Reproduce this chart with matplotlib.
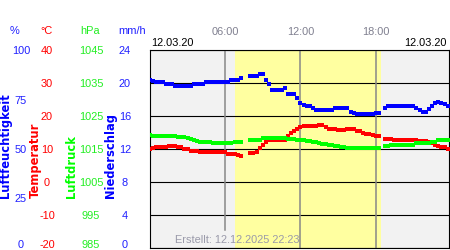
import numpy as np
import matplotlib
matplotlib.use("Agg")
import matplotlib.pyplot as plt

# ---------------- data (15-minute readings, 12.03.20) ----------------
step_h = 0.25
N = 96
times = np.arange(N) * step_h

humidity = [84.7, 84.3, 83.8, 83.8, 83.8, 82.8, 82.8, 82.8, 81.7, 81.7,
            81.7, 81.7, 81.7, 81.7, 82.8, 82.8, 82.8, 82.8, 83.8, 83.8,
            83.8, 83.8, 83.8, 83.8, 83.8, 83.8, 84.6, 84.6, 84.6, 85.9,
            None, None, 86.7, 86.7, 86.7, 87.9, 87.9, 84.8, 82.8, 79.8,
            79.8, 79.8, 79.8, 80.8, 77.6, 77.6, 77.6, 75.6, 73.2, 72.0,
            71.7, 71.7, 70.7, 69.5, 69.5, 69.5, 69.5, 69.5, 69.5, 70.6,
            70.6, 70.6, 70.6, 70.6, 68.5, 68.2, 67.7, 67.7, 67.7, 67.7,
            67.7, 67.7, 68.3, 68.3, None, 70.6, 71.6, 71.6, 71.6, 71.6,
            71.6, 71.6, 71.6, 71.6, 71.6, 70.7, 69.7, 68.7, 68.7, 70.2,
            71.7, 73.4, 73.5, 73.2, 72.5, 71.7]

temperature = [9.9, 10.2, 10.5, 10.5, 10.5, 10.5, 10.8, 10.9, 10.8, 10.5,
               10.5, 9.9, 9.9, 9.4, 9.4, 9.4, 9.0, 9.0, 9.0, 9.0,
               9.0, 9.0, 9.0, 9.0, 9.0, 8.5, 8.5, 8.5, 8.3, 7.9,
               None, None, 8.7, 8.8, 9.1, 10.2, 11.2, 12.0, 12.6, 12.7,
               12.7, 12.7, 12.7, 12.7, 13.9, 14.7, 15.6, 16.2, 16.7, 16.9,
               16.9, 16.9, 16.9, 16.9, 17.2, 17.2, 16.7, 16.2, 16.0, 16.0,
               15.8, 15.7, 15.7, 16.0, 16.0, 16.0, 15.6, 15.5, 15.0, 14.5,
               14.4, 14.2, 13.8, 13.8, None, 13.1, 13.1, 12.9, 12.7, 12.7,
               12.7, 12.7, 12.7, 12.6, 12.6, 12.6, 12.4, 12.4, 12.4, 12.1,
               11.7, 11.2, 10.9, 10.7, 10.5, 10.0]

pressure = [1019.2, 1018.9, 1018.9, 1018.9, 1018.9, 1018.9, 1018.9, 1018.9, 1018.8, 1018.5,
            1018.5, 1018.5, 1018.3, 1018.0, 1017.7, 1017.5, 1017.1, 1017.1, 1017.1, 1017.1,
            1016.8, 1016.7, 1016.7, 1016.7, 1016.7, 1016.7, 1016.8, 1017.0, 1017.1, 1017.1,
            None, None, 1017.7, 1017.7, 1017.8, 1017.8, 1018.2, 1018.3, 1018.3, 1018.3,
            1018.4, 1018.4, 1018.4, 1018.2, 1018.0, 1017.9, 1017.9, 1017.7, 1017.6, 1017.6,
            1017.5, 1017.4, 1017.1, 1017.0, 1016.7, 1016.5, 1016.4, 1016.2, 1016.1, 1015.9,
            1015.8, 1015.6, 1015.5, 1015.4, 1015.4, 1015.4, 1015.4, 1015.4, 1015.4, 1015.4,
            1015.4, 1015.4, 1015.4, 1015.4, None, 1015.8, 1016.0, 1016.2, 1016.2, 1016.2,
            1016.2, 1016.2, 1016.2, 1016.2, 1016.2, 1016.7, 1016.7, 1016.7, 1016.7, 1016.7,
            1017.1, 1017.1, 1017.6, 1017.8, 1017.8, 1017.8]

sunrise_h, sunset_h = 6.8, 18.46

hour_ticks = [6, 12, 18]
hour_labels = ["06:00", "12:00", "18:00"]

hum_ticks = [0, 25, 50, 75, 100]
temp_ticks = [-20, -10, 0, 10, 20, 30, 40]
pres_ticks = [985, 995, 1005, 1015, 1025, 1035, 1045]
rain_ticks = [0, 4, 8, 12, 16, 20, 24]

date_label = "12.03.20"
created_label = "Erstellt: 12.12.2025 22:23"

# ---------------- figure ----------------
W, H = 450, 250
fig = plt.figure(figsize=(W / 100, H / 100), dpi=100)
fig.patch.set_facecolor("white")

ax_left, ax_right, ax_top, ax_bot = 150, 449, 50, 248
ax = fig.add_axes([ax_left / W, 1 - ax_bot / H, (ax_right - ax_left) / W, (ax_bot - ax_top) / H])
ax.set_facecolor("#f2f2f2")
ax.set_xlim(0, 23.85)
ax.set_ylim(-20, 40)

BLUE, RED, GREEN = "#0000ff", "#ff0000", "#00ff00"
TICKFONT = dict(family="Liberation Sans", size=7.9)

ax.axvspan(sunrise_h, sunset_h, color="#ffffa0", zorder=0.5, lw=0)
ax.set_yticks(temp_ticks)
ax.yaxis.grid(True, color="black", lw=0.8)
ax.tick_params(axis="y", length=0, labelleft=False)
for s in ax.spines.values():
    s.set_color("black")
    s.set_linewidth(0.8)
for hx in hour_ticks:
    ymin = 0.09 if hx == 6 else 0
    ax.axvline(hx, ymin=ymin, color="#888888", lw=1.1, zorder=1.6)

ax.set_xticks(hour_ticks)
ax.set_xticklabels(hour_labels, color="#808090", **TICKFONT)
ax.xaxis.tick_top()
ax.tick_params(axis="x", length=0, pad=9.5)

def to_arr(v):
    return np.array([np.nan if a is None else a for a in v], dtype=float)

mstyle = dict(ls="none", marker="s", ms=2.3, mew=0, antialiased=False)
# pressure
ax_p = ax.twinx()
ax_p.set_ylim(985, 1045)
ax_p.plot(times, to_arr(pressure), color=GREEN, **mstyle)
# temperature
ax.plot(times, to_arr(temperature), color=RED, zorder=3, **mstyle)
# humidity
ax_h = ax.twinx()
ax_h.set_ylim(0, 100)
ax_h.plot(times, to_arr(humidity), color=BLUE, **mstyle)

for a in (ax_p, ax_h):
    a.set_yticks([])
    for s in a.spines.values():
        s.set_visible(False)

# ---------------- tick label columns ----------------
def label_column(lims, ticks, center_px, color):
    t = ax.twinx()
    t.set_ylim(*lims)
    for s in t.spines.values():
        s.set_visible(False)
    t.yaxis.tick_left()
    t.spines["left"].set_position(("axes", (center_px - ax_left) / (ax_right - ax_left)))
    t.set_yticks(ticks)
    t.set_yticklabels([str(v) for v in ticks], color=color, **TICKFONT)
    t.tick_params(axis="y", length=0, pad=0)
    labs = t.get_yticklabels()
    for lab in labs:
        lab.set_horizontalalignment("center")
    labs[0].set_verticalalignment("baseline")
    t.patch.set_visible(False)
    return t

label_column((0, 100), hum_ticks, 21, "#2020ff")
label_column((-20, 40), temp_ticks, 47, RED)
label_column((985, 1045), pres_ticks, 91, "#22ee22")
label_column((0, 24), rain_ticks, 125, "#2020ff")

# units
for txt, xc, col in [("%", 14, "#2020ff"), ("°C", 46.5, RED), ("hPa", 90, "#22ee22"), ("mm/h", 132, "#2020ff")]:
    fig.text(xc / W, 1 - 31 / H, txt, ha="center", va="center", color=col, **TICKFONT)

# rotated axis titles
ROTFONT = dict(family="DejaVu Sans", size=8.3, weight="bold")
for txt, xc, col in [("Luftfeuchtigkeit", 6, BLUE), ("Temperatur", 35, RED),
                     ("Luftdruck", 71, GREEN), ("Niederschlag", 111, BLUE)]:
    fig.text(xc / W, 1 - 198 / H, txt, rotation=90, ha="center", va="bottom", color=col, **ROTFONT)

# dates
fig.text(151 / W, 1 - 43.5 / H, date_label, ha="left", va="center", color="black", **TICKFONT)
fig.text(447 / W, 1 - 43.5 / H, date_label, ha="right", va="center", color="black", **TICKFONT)

# created
fig.text(175 / W, 1 - 240 / H, created_label, ha="left", va="center", color="#9a9aaa", **TICKFONT)

fig.savefig("out.png", dpi=100)
